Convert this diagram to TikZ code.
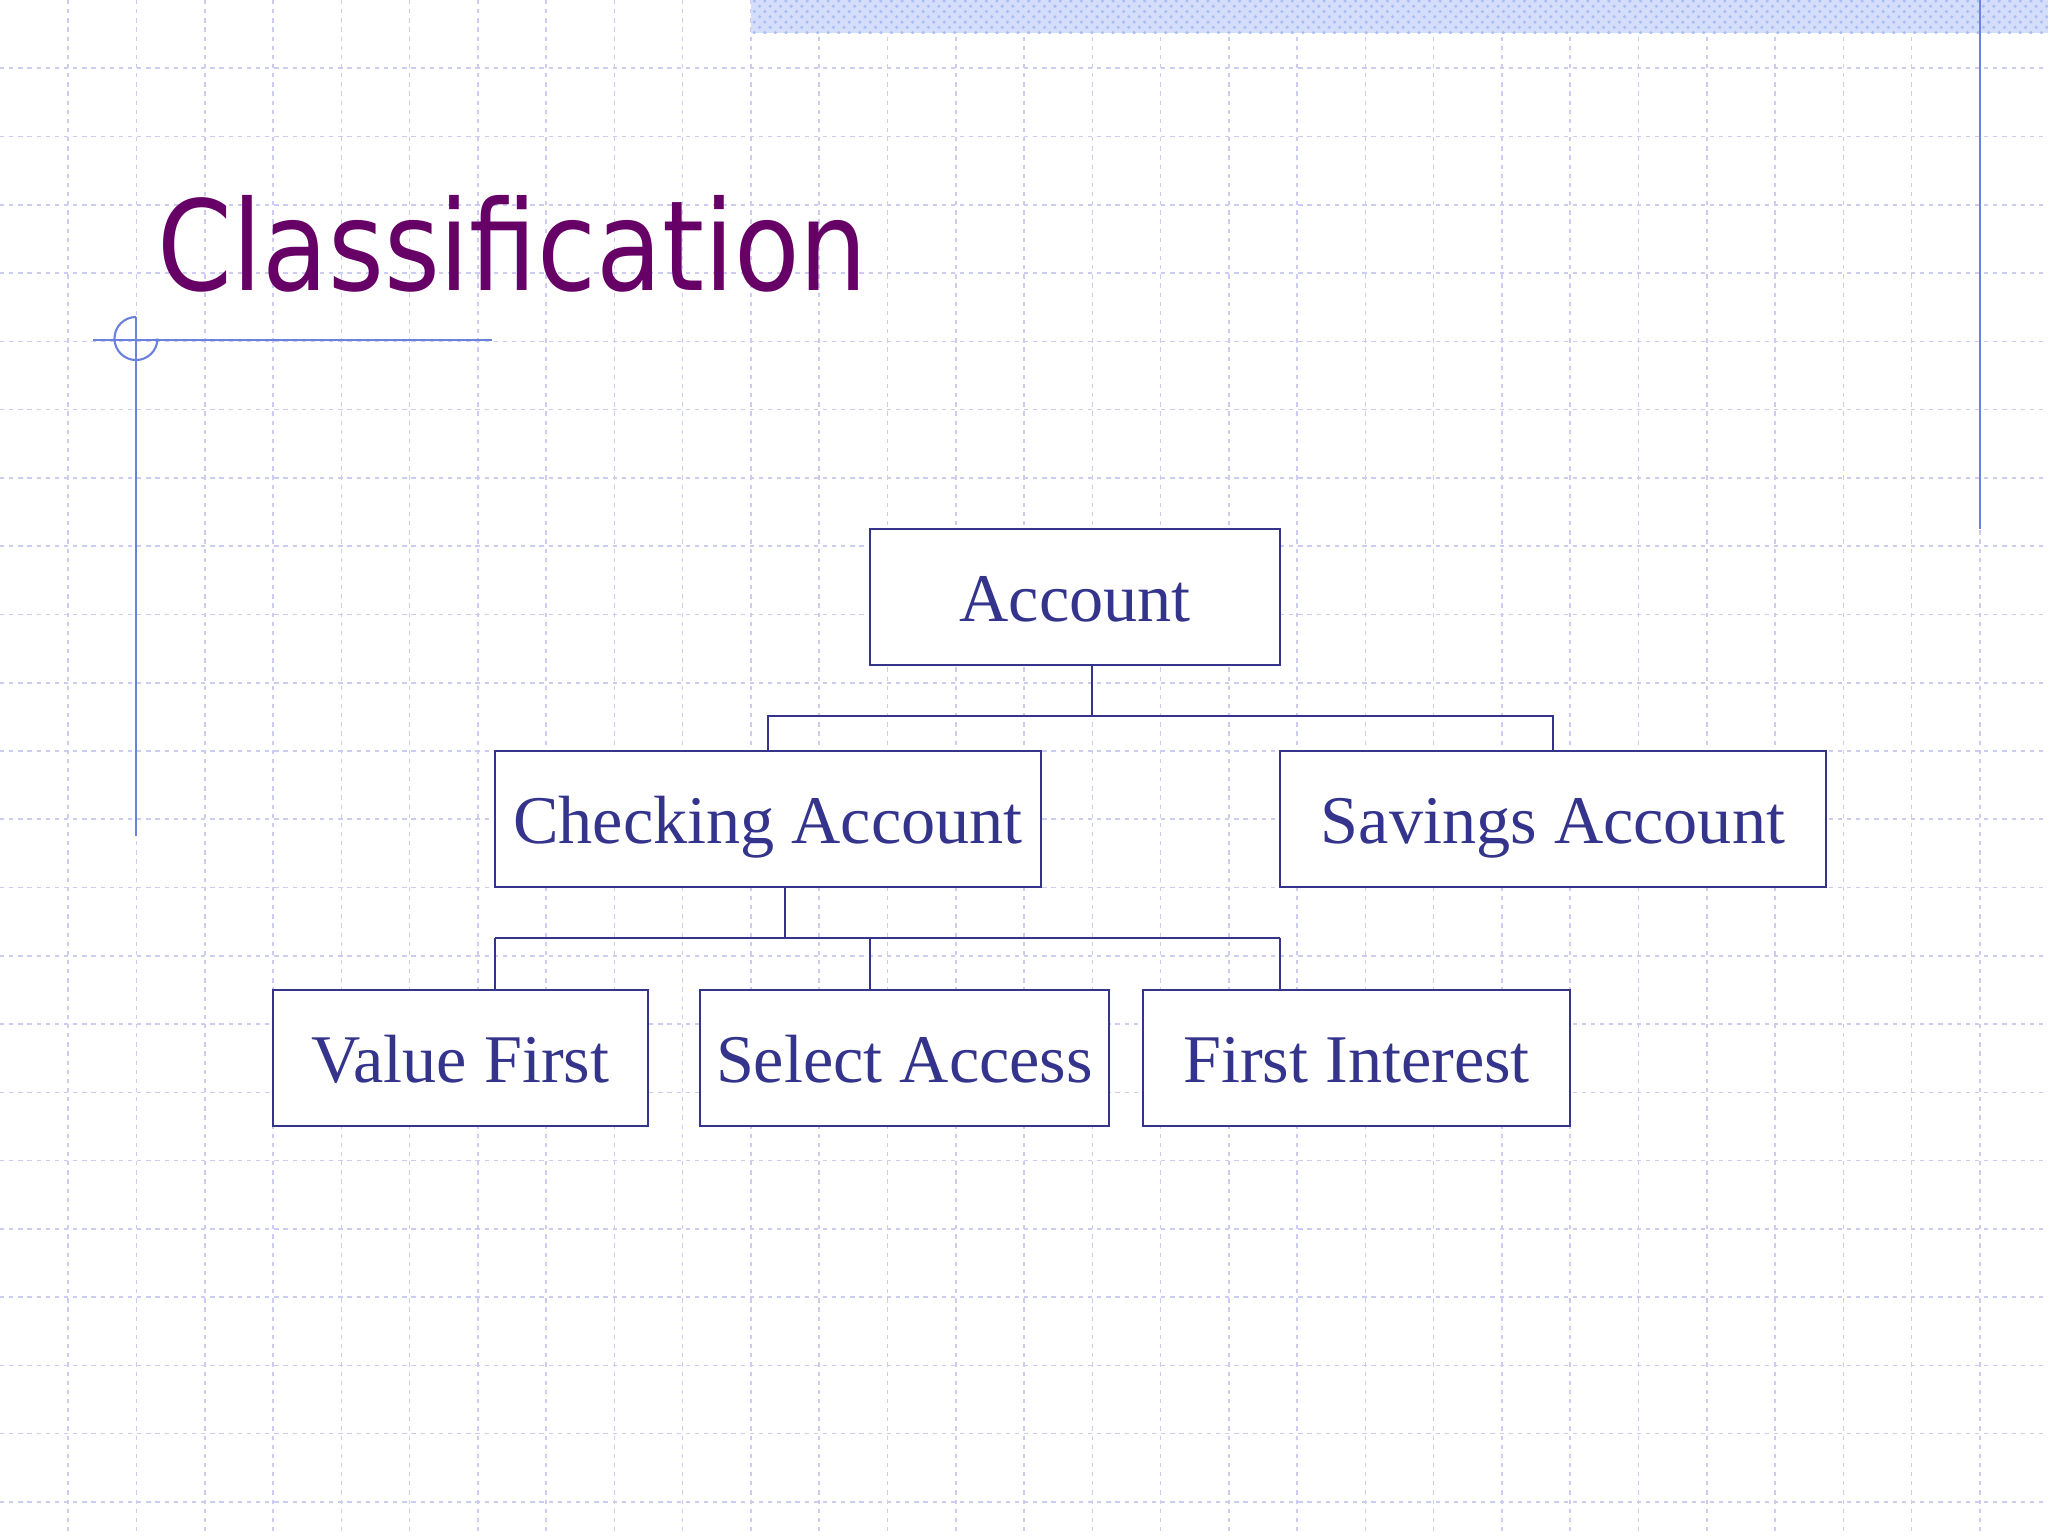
\documentclass[tikz,border=0pt]{standalone}
\usepackage{fontspec}
\setmainfont{Liberation Serif}
\newfontfamily\titlefont[FakeStretch=0.857]{DejaVu Sans}
\usepackage{tikz}
\usetikzlibrary{positioning, patterns, calc}
\definecolor{GridLine}{RGB}{204,204,240}
\definecolor{BandFill}{RGB}{212,222,250}
\definecolor{BandDots}{RGB}{170,190,245}
\definecolor{AccentLine}{RGB}{104,130,222}
\definecolor{TitlePurple}{RGB}{102,0,102}
\definecolor{BoxBlue}{RGB}{52,52,140}

\begin{document}
\begin{tikzpicture}[x=0.01cm, y=-0.01cm]
        \tikzset{
            grid_line/.style={GridLine, line width=0.45pt, dash pattern=on 1.2pt off 1.4pt},
            accent_line/.style={AccentLine, line width=0.6pt},
            class_box/.style={rectangle, draw=BoxBlue, line width=0.6pt, fill=white, text=BoxBlue, inner sep=0pt, minimum height=1.36cm, text height=17pt, text depth=2.8pt, font=\fontsize{19.4}{23}\selectfont},
            link/.style={BoxBlue, line width=0.6pt}
        }

        % page and grid
        \fill[white] (0,0) rectangle (2048,1536);
        \useasboundingbox (0,0) rectangle (2048,1536);
        \foreach \k in {1,...,29}
            \draw[grid_line] (\k*68.27,0) -- (\k*68.27,1536);
        \foreach \k in {1,...,22}
            \draw[grid_line] (0,\k*68.27) -- (2048,\k*68.27);

        % top band and accent lines
        \fill[BandFill] (751,0) rectangle (2048,33);
        \fill[pattern=crosshatch dots, pattern color=BandDots] (751,0) rectangle (2048,33);
        \draw[accent_line] (1980,0) -- (1980,529);
        \draw[accent_line] (93,340) -- (492,340);
        \draw[accent_line] (136,317) -- (136,836);
        \draw[accent_line] (136,317) arc[start angle=90, end angle=360, radius=0.215cm];

        \node[anchor=base west, inner sep=0pt, text=TitlePurple, font=\titlefont\fontsize{35.6}{40}\selectfont] (title) at (157,290) {Classification};

        % hierarchy
        \node[class_box, minimum width=4.10cm] (acc) at (1075,597) {Account};
        \node[class_box, minimum width=5.46cm] (chk) at (768,819) {Checking Account};
        \node[class_box, minimum width=5.46cm] (sav) at (1553,819) {Savings Account};
        \node[class_box, minimum width=3.75cm] (val) at (460.5,1058) {Value First};
        \node[class_box, minimum width=4.09cm] (sel) at (904.5,1058) {Select Access};
        \node[class_box, minimum width=4.27cm] (fin) at (1356.5,1058) {First Interest};

        \coordinate (acc_bus) at (1092,716);
        \draw[link] (acc.south -| acc_bus) -- (acc_bus);
        \draw[link] (chk.north) |- (acc_bus) -| (sav.north);

        \coordinate (chk_bus) at (785,938);
        \coordinate (val_drop) at (495,938);
        \coordinate (sel_drop) at (870,938);
        \coordinate (fin_drop) at (1280,938);
        \draw[link] (chk.south -| chk_bus) -- (chk_bus);
        \draw[link] (val_drop) -- (fin_drop);
        \draw[link] (val_drop) -- (val.north -| val_drop);
        \draw[link] (sel_drop) -- (sel.north -| sel_drop);
        \draw[link] (fin_drop) -- (fin.north -| fin_drop);

    \end{tikzpicture}
\end{document}
